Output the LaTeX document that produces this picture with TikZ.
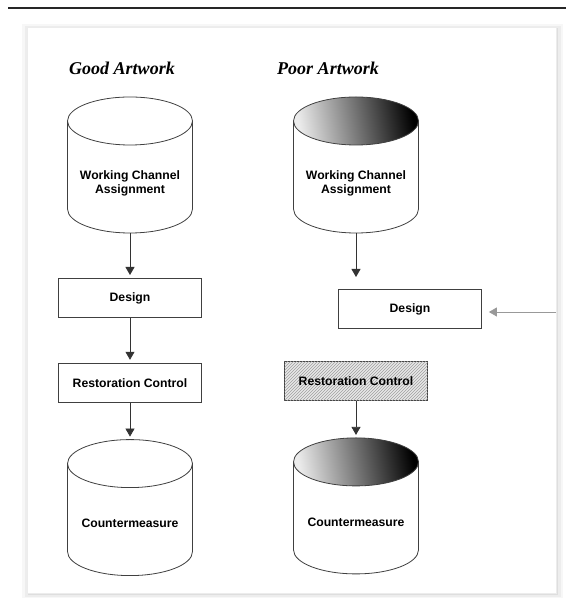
\documentclass[tikz,border=0pt]{standalone}
\usepackage{fontspec}
\setmainfont{Liberation Serif}
\setsansfont{Liberation Sans}
\usetikzlibrary{positioning, arrows.meta, patterns}
\tikzset{
	>={Triangle[width=9pt,length=8pt]}, % filled arrow heads
	box/.style={draw=black!75, line width=0.8pt, minimum width=143pt, minimum height=39pt, inner sep=0pt, font=\sffamily\bfseries\fontsize{12.2}{14}\selectfont},
	drum/.style={minimum width=125pt, minimum height=136pt, inner sep=0pt, outer sep=0pt}, % room for a cylinder
	drumtext/.style={align=center, inner sep=0pt, font=\sffamily\bfseries\fontsize{12.2}{14}\selectfont},
	drumline/.style={draw=black!75, line width=0.8pt},
	title/.style={font=\bfseries\itshape\fontsize{18}{21}\selectfont},
	flow/.style={->, draw=black!80, line width=0.8pt, shorten >=3pt},
}

\begin{document}
\begin{tikzpicture}[x=1pt, y=1pt]
	\useasboundingbox (0,0) rectangle (566,607);
	% rule and panel
	\draw[line width=1.5pt, black!85] (8,599) -- (566,599);
	\fill[gray!6] (22,9) rectangle (563,583);
	\fill[gray!14] (25,10) rectangle (561,581);
	\fill[gray!26] (28,12) rectangle (558,579);
	\filldraw[fill=white, draw=gray!15] (27,14) rectangle (556,580);

	\node[title] (good) at (122,539) {Good Artwork};
	\node[title] (poor) at (328,539) {Poor Artwork};

	% good artwork
	\node[drum] (wca1) at (130,442) {};
	\node[box] (d1) [below=45pt of wca1] {Design};
	\node[box] (r1) [below=45pt of d1] {Restoration Control};
	\node[drum] (cm1) [below=37pt of r1] {};

	% poor artwork
	\node[drum] (wca2) at (356,442) {};
	\coordinate (d2in) at (356,330);
	\node[box] (d2) at (410,298) {Design};
	\coordinate (feed) at (556,295);
	\node[box, fill=gray!18, postaction={pattern=north east lines, pattern color=gray!75}] (r2) at (356,226) {Restoration Control};
	\node[drum] (cm2) [below=37pt of r2] {};

	% shaded tops
	\foreach \n in {wca2, cm2}
		\shade[left color=white!92!black, right color=black, shading angle=100] ([yshift=-24pt]\n.north) ellipse [x radius=62.5pt, y radius=24pt];

	% cylinders
	\foreach \n in {wca1, cm1, wca2, cm2}{
		\draw[drumline] ([yshift=-24pt]\n.north west) -- ([yshift=24pt]\n.south west)
			arc[start angle=180, end angle=360, x radius=62.5pt, y radius=24pt] -- ([yshift=-24pt]\n.north east);
		\draw[drumline] ([yshift=-24pt]\n.north) ellipse [x radius=62.5pt, y radius=24pt];
	}

	\node[drumtext] (wca1t) at ([yshift=-18pt]wca1.center) {Working Channel\\Assignment};
	\node[drumtext] (cm1t) at ([yshift=-16pt]cm1.center) {Countermeasure};
	\node[drumtext] (wca2t) at ([yshift=-18pt]wca2.center) {Working Channel\\Assignment};
	\node[drumtext] (cm2t) at ([yshift=-16pt]cm2.center) {Countermeasure};

	\draw[flow] (wca1) -- (d1);
	\draw[flow] (d1) -- (r1);
	\draw[flow] (r1) -- (cm1);
	\draw[flow, shorten >=0pt] (wca2) -- (d2in);
	\draw[flow, draw=gray!80, shorten >=7pt] (feed) -- (feed -| d2.east);
	\draw[flow] (r2) -- (cm2);
\end{tikzpicture}
\end{document}
